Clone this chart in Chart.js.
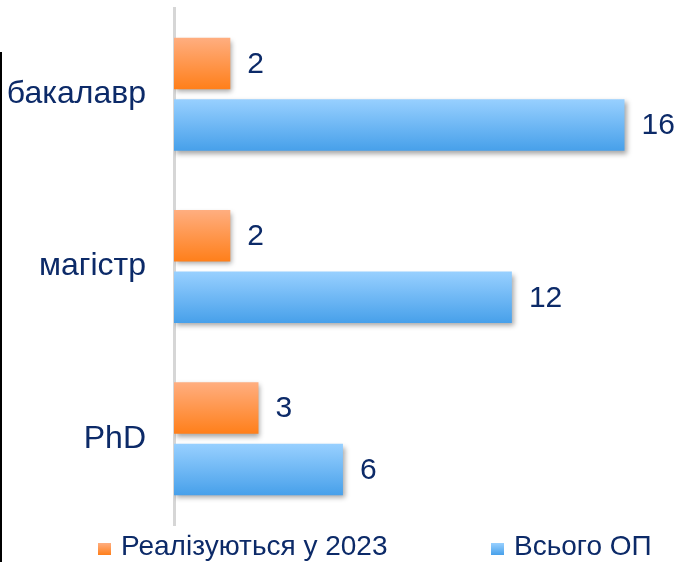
<!DOCTYPE html>
<html>
<head>
<meta charset="utf-8">
<script src="https://cdn.jsdelivr.net/npm/chart.js@4"></script>
<style>
  html, body { margin: 0; padding: 0; background: #fff; overflow: hidden; }
  #wrap { position: relative; width: 678px; height: 562px; }
  #leftLine { position: absolute; left: 0; top: 52px; width: 2px; height: 510px; background: #000; }
</style>
</head>
<body>
<div id="wrap">
  <canvas id="chart"></canvas>
  <div id="leftLine"></div>
</div>
<script>
// ---- data ----
const categories = ["бакалавр", "магістр", "PhD"];
const seriesNames = ["Реалізуються у 2023", "Всього ОП"];
const implemented2023 = [2, 2, 3];
const totalPrograms = [16, 12, 6];

const TEXT = "#0c2a68";
const FONT = "'Liberation Sans', Arial, sans-serif";
const ORANGE = ["#ffae80", "#ff7f1a"];
const BLUE = ["#98d0ff", "#47a0ea"];

function grad(ctx, top, bottom, stops) {
  const g = ctx.createLinearGradient(0, top, 0, bottom);
  g.addColorStop(0, stops[0]);
  g.addColorStop(1, stops[1]);
  return g;
}

// gradient per bar, set right before drawing, plus a soft drop shadow
const barStyle = {
  id: "barStyle",
  beforeDatasetDraw(chart, args) {
    const ds = chart.data.datasets[args.index];
    args.meta.data.forEach(el => {
      const h = el.height / 2;
      el.options.backgroundColor = grad(chart.ctx, el.y - h, el.y + h, ds._stops);
    });
    const ctx = chart.ctx;
    ctx.save();
    ctx.shadowColor = "rgba(0,0,0,0.35)";
    ctx.shadowBlur = 5;
    ctx.shadowOffsetX = 2;
    ctx.shadowOffsetY = 3;
  },
  afterDatasetDraw(chart) {
    chart.ctx.restore();
  }
};

const valueLabels = {
  id: "valueLabels",
  afterDatasetsDraw(chart) {
    const ctx = chart.ctx;
    ctx.save();
    ctx.fillStyle = TEXT;
    ctx.font = "30px " + FONT;
    ctx.textAlign = "left";
    ctx.textBaseline = "middle";
    chart.data.datasets.forEach((ds, i) => {
      chart.getDatasetMeta(i).data.forEach((el, j) => {
        ctx.fillText(String(ds.data[j]), el.x + 17, el.y + 1);
      });
    });
    ctx.restore();
  }
};

const bottomLegend = {
  id: "bottomLegend",
  afterDraw(chart) {
    const ctx = chart.ctx;
    const starts = [98, 491];
    ctx.save();
    ctx.font = "28px " + FONT;
    ctx.textBaseline = "alphabetic";
    ctx.textAlign = "left";
    chart.data.datasets.forEach((ds, i) => {
      const x = starts[i];
      ctx.fillStyle = grad(ctx, 543, 555, ds._stops);
      ctx.fillRect(x, 543, 13, 12);
      ctx.fillStyle = TEXT;
      ctx.fillText(ds.label, x + 23, 555);
    });
    ctx.restore();
  }
};

new Chart(document.getElementById("chart"), {
  type: "bar",
  data: {
    labels: categories,
    datasets: [
      { label: seriesNames[0], data: implemented2023, _stops: ORANGE,
        backgroundColor: () => ORANGE[1], borderWidth: 0 },
      { label: seriesNames[1], data: totalPrograms, _stops: BLUE,
        backgroundColor: () => BLUE[1], borderWidth: 0 }
    ]
  },
  options: {
    indexAxis: "y",
    responsive: true,
    maintainAspectRatio: false,
    animation: false,
    categoryPercentage: 0.714,
    barPercentage: 0.837,
    layout: { padding: { top: 8, right: 0, bottom: 37, left: 0 } },
    plugins: { legend: { display: false }, tooltip: { enabled: false } },
    scales: {
      x: { display: false, min: 0, max: 17.9 },
      y: {
        grid: { display: false, drawTicks: false },
        border: { display: true, color: "#d6d6d6", width: 3 },
        ticks: { color: TEXT, font: { family: FONT, size: 32 }, padding: 28 },
        afterFit(scale) {
          scale.width = 174;
          scale.paddingTop = 0;
          scale.paddingBottom = 0;
        }
      }
    }
  },
  plugins: [barStyle, valueLabels, bottomLegend]
});
</script>
</body>
</html>
